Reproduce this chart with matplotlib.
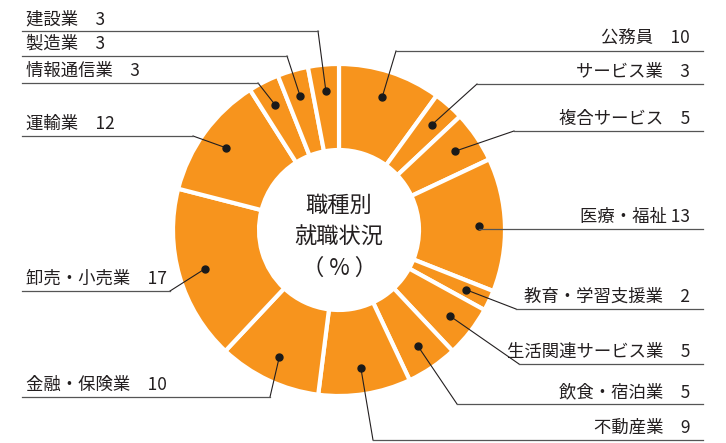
import numpy as np
import matplotlib.pyplot as plt

plt.rcParams['font.family'] = ['Noto Sans CJK JP', 'DejaVu Sans']

# 職種別就職状況（%）: 12時の位置から時計回り
categories = ['公務員', 'サービス業', '複合サービス', '医療・福祉', '教育・学習支援業',
              '生活関連サービス業', '飲食・宿泊業', '不動産業', '金融・保険業',
              '卸売・小売業', '運輸業', '情報通信業', '製造業', '建設業']
values = [10, 3, 5, 13, 2, 5, 5, 9, 10, 17, 12, 3, 3, 3]

# ラベル配置（画像座標 px: 上が0）: 左右, 横線のy, 折れ点のx
label_side = ['R', 'R', 'R', 'R', 'R', 'R', 'R', 'R', 'L', 'L', 'L', 'L', 'L', 'L']
label_line_y = [51, 84, 131, 229, 309, 364, 404, 440, 397, 291, 136, 83, 56, 31]
label_elbow_x = [396, 477, 514, None, 516, 519, 457, 373, 270, 170, 193, 258, 287, 318]

W, H = 726, 443
cx, cy = 339, 230
r_out, r_in, r_dot = 166, 80, 140
orange = '#F7941D'
ink = '#231f20'

fig = plt.figure(figsize=(W / 100, H / 100), dpi=100)
ax = fig.add_axes([0, 0, 1, 1])

ax.pie(values, startangle=90, counterclock=False, radius=r_out, center=(cx, H - cy),
       colors=[orange] * len(values),
       wedgeprops=dict(width=r_out - r_in, edgecolor='white', linewidth=3))

cum = np.cumsum(values) - np.array(values) / 2
total = sum(values)
for name, v, c, side, ly, ex in zip(categories, values, cum, label_side, label_line_y, label_elbow_x):
    theta = np.deg2rad(90 - 360 * c / total)
    dx = cx + r_dot * np.cos(theta)
    dy = (H - cy) + r_dot * np.sin(theta)
    if ex is None:
        ex = dx
    ax.plot([dx, ex], [dy, H - ly], color=ink, lw=0.8)
    ax.plot(dx, dy, 'o', color='#1a1a1a', ms=5)
    sep = ' ' if name == '医療・福祉' else '　'
    label = f'{name}{sep}{v}'
    if side == 'R':
        ax.plot([ex, 703], [H - ly, H - ly], color='#555555', lw=0.9)
        ax.text(690, H - ly + 12, label, ha='right', va='center', fontsize=12.5, color=ink)
    else:
        ax.plot([22, ex], [H - ly, H - ly], color='#555555', lw=0.9)
        ax.text(26, H - ly + 12, label, ha='left', va='center', fontsize=12.5, color=ink)

ax.text(cx, H - 205, '職種別', ha='center', va='center', fontsize=16, color=ink)
ax.text(cx, H - 237, '就職状況', ha='center', va='center', fontsize=16, color=ink)
ax.text(cx, H - 268, '（ % ）', ha='center', va='center', fontsize=16, color=ink)

ax.set_xlim(0, W)
ax.set_ylim(0, H)
ax.set_aspect('auto')
ax.axis('off')
fig.savefig('out.png', dpi=100)
